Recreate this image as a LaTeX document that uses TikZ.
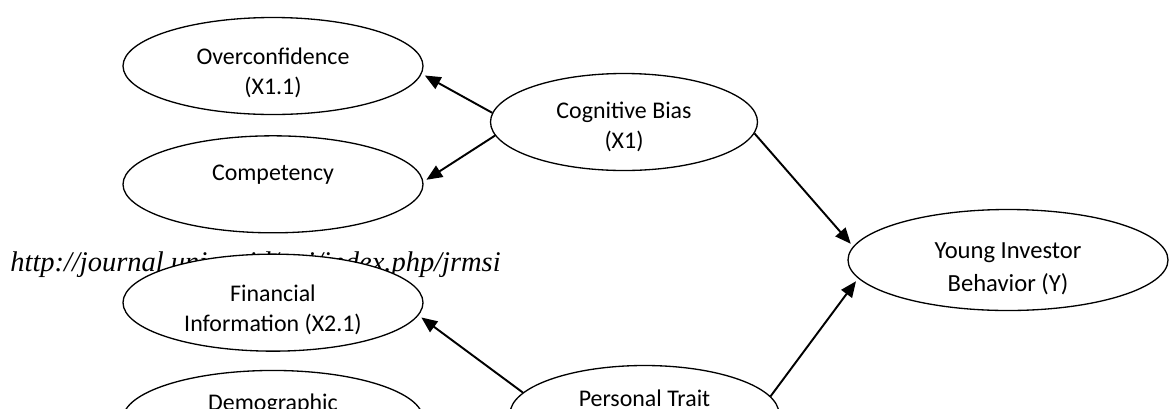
\documentclass[tikz,border=0pt]{standalone}
\usepackage{fontspec}
\setmainfont{Carlito}
\newfontfamily\urlfont{Liberation Serif}
\usetikzlibrary{positioning}
\usetikzlibrary{shapes.geometric}
\usetikzlibrary{arrows.meta}

\tikzset{
  bubble/.style={ellipse, draw, line width=0.75pt, fill=white, inner sep=0pt,
    minimum width=6cm, minimum height=1.94cm},
  caption/.style={align=center, inner sep=0pt, yshift=-0.14cm,
    font=\fontsize{13.6}{17}\selectfont},
  link/.style={-{Triangle[length=9pt,width=7.5pt]}, line width=1.1pt, shorten >=2pt},
}

\begin{document}
\begin{tikzpicture}
            \useasboundingbox (0,0) rectangle (23.38,-8.16);
            \clip (0,0) rectangle (23.38,-8.16);

            \node[anchor=base west, inner sep=0pt, font=\urlfont\itshape\fontsize{16.2}{19}\selectfont] (url) at (0.2,-5.42) {http://journal.unj.ac.id/unj/index.php/jrmsi};

            % indicators on the left
            \node[bubble, label={[caption]center:{Overconfidence\\(X1.1)}}] (overconf) at (5.46,-1.32) {};
            \node[bubble, below=0.4cm of overconf, label={[caption, yshift=0.34cm]center:Competency}] (compet) {};
            \node[bubble, below=0.4cm of compet, label={[caption]center:{Financial\\Information (X2.1)}}] (fininfo) {};
            \node[bubble, below=0.36cm of fininfo, label={[caption, yshift=0.44cm]center:Demographic}] (demog) {};

            % variables
            \node[bubble, minimum width=5.34cm, label={[caption, yshift=0.04cm]center:{Cognitive Bias\\(X1)}}] (cogbias) at (12.48,-2.44) {};
            \node[bubble, minimum width=5.38cm, label={[caption, yshift=0.46cm]center:Personal Trait}] (perstrait) at (12.89,-8.28) {};
            \node[bubble, minimum width=6.4cm, minimum height=2.02cm,
              label={[caption, yshift=-0.03cm, font=\fontsize{14}{18.7}\selectfont]center:{Young Investor\\Behavior (Y)}}] (youngbeh) at (20.16,-5.2) {};

            \draw[link] (cogbias.176) -- (overconf.-3);
            \draw[link] (cogbias.186) -- (compet.1);
            \draw[link] (cogbias.-5.5) -- (youngbeh.175);
            \draw[link] (perstrait.8) -- (youngbeh.187);
            \draw[link] (perstrait.170) -- (fininfo.-5);
            \draw[link] (perstrait.180) -- (demog.0);
        \end{tikzpicture}
\end{document}
